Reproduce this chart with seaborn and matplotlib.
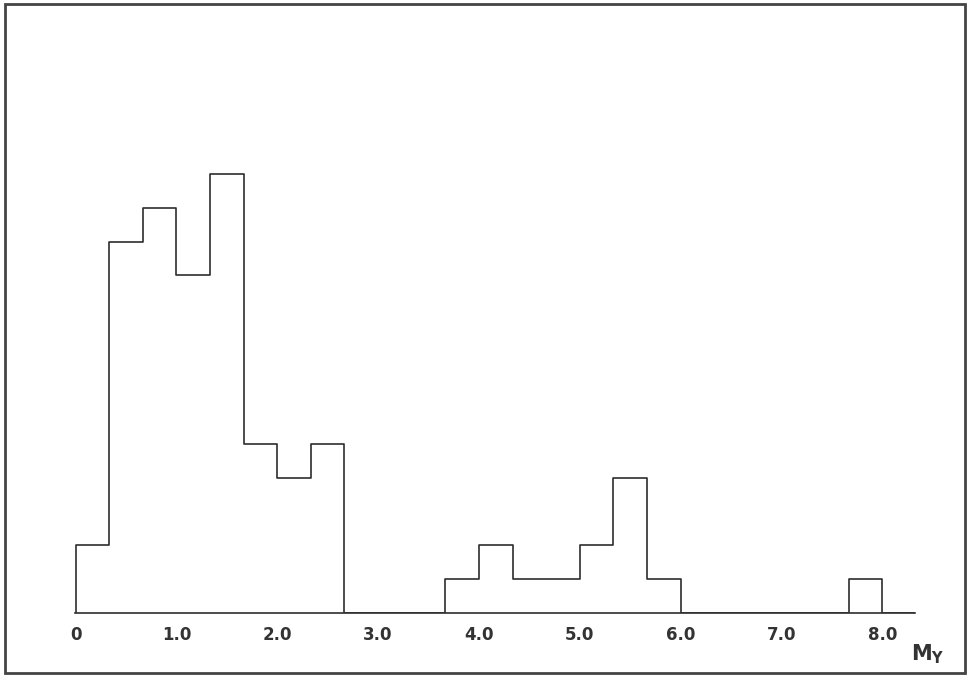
import matplotlib
matplotlib.use("Agg")
import matplotlib.pyplot as plt
import seaborn as sns
import numpy as np
import pandas as pd
from matplotlib.patches import Rectangle

# bins of width 1/3 starting at M_Y = 0 (padded with an empty bin at each end)
bin_width = 1.0 / 3.0
counts = [0,
          2, 11, 12, 10, 13, 5, 4, 5,
          0, 0, 0,
          1, 2, 1, 1, 2, 4, 1,
          0, 0, 0, 0, 0,
          1,
          0]
edges = [(i - 1) * bin_width for i in range(len(counts) + 1)]
centers = [e + bin_width / 2 for e in edges[:-1]]

tick_values = [0, 1, 2, 3, 4, 5, 6, 7, 8]
tick_labels = ["0", "1.0", "2.0", "3.0", "4.0", "5.0", "6.0", "7.0", "8.0"]

df = pd.DataFrame({"my": centers, "n": counts})

sns.set_style("white")
plt.rcParams['font.family'] = ['DejaVu Sans']
plt.rcParams['mathtext.fontset'] = 'dejavusans'
ink = "#2e2e2e"

fig = plt.figure(figsize=(9.69, 6.79), dpi=100)
W, H = 969, 679
ax = fig.add_axes([75 / W, (H - 613) / H, (915 - 75) / W, (613 - 19) / H])

sns.histplot(data=df, x="my", weights="n", bins=edges, element="step",
             fill=False, color=ink, linewidth=1.2, ax=ax)

unit_px = 439 / 13.0
ax.set_xlim(-0.006, 840 / 100.9)
ax.set_ylim(0, (613 - 19) / unit_px)

sns.despine(ax=ax, left=True, top=True, right=True)
ax.spines['bottom'].set_color(ink)
ax.spines['bottom'].set_linewidth(1.2)
ax.set_yticks([])
ax.set_ylabel("")
ax.set_xticks(tick_values)
ax.set_xticklabels(tick_labels, fontsize=12, fontweight='bold', color="#333333")
ax.tick_params(axis='x', direction='in', length=4, width=1.0, color=ink, pad=9)

ax.set_xlabel(r"$\mathbf{M_{Y}}$", fontsize=15, color="#333333")
ax.xaxis.set_label_coords((928 - 75) / 840, -0.05)

# scanned frame around the whole figure
fig.patches.append(Rectangle((5 / W, 6 / H), 960 / W, 669 / H, transform=fig.transFigure,
                             fill=False, edgecolor="#444444", linewidth=2.0))

fig.savefig("out.png", dpi=100, facecolor="white")
